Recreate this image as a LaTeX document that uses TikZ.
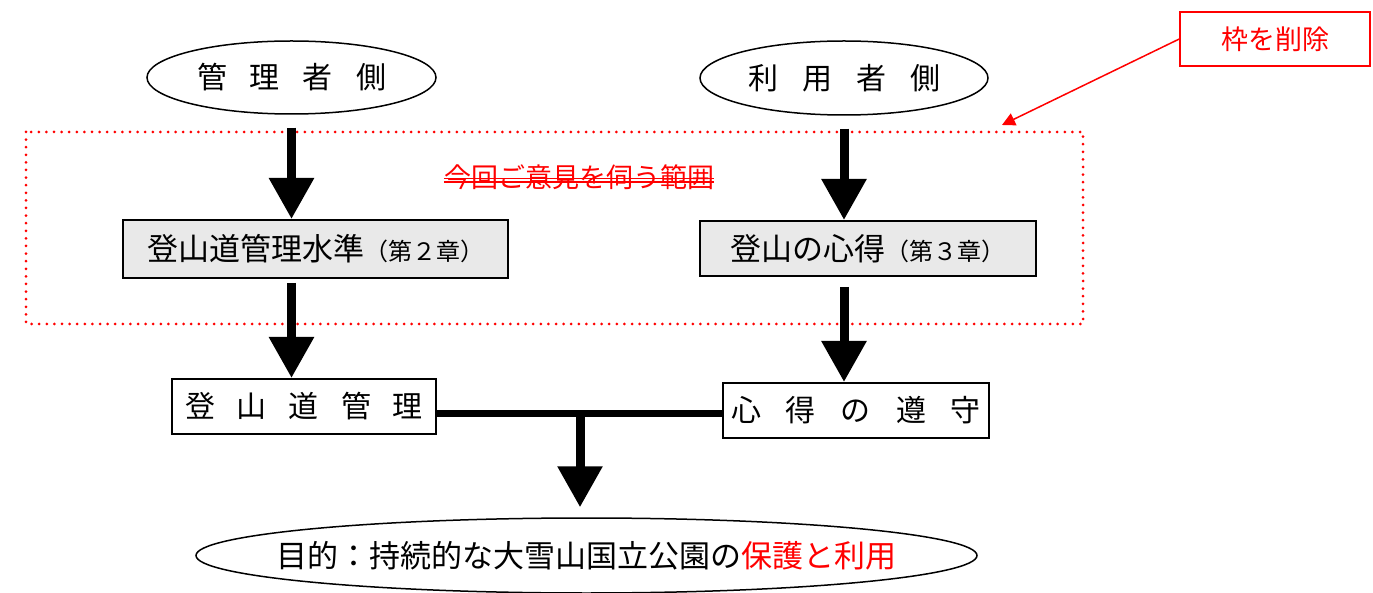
\documentclass[tikz,border=0pt]{standalone}
\usepackage{fontspec}
\setmainfont{Noto Sans CJK JP}
\usetikzlibrary{shapes.geometric,arrows.meta}
\definecolor{boxgray}{RGB}{233,233,233}
\definecolor{pured}{RGB}{255,0,0}
\begin{document}
\begin{tikzpicture}[x=1pt,y=-1pt,
  oval/.style={ellipse,draw,line width=1.5pt,inner sep=0pt,font=\fontsize{30}{36}\selectfont},
  graybox/.style={rectangle,draw,line width=2pt,fill=boxgray,inner sep=0pt},
  whitebox/.style={rectangle,draw,line width=2pt,fill=white,inner sep=0pt,font=\fontsize{30}{36}\selectfont},
  bigarrow/.style={line width=9pt,-{Triangle[width=43pt,length=41pt]}},
  dottedframe/.style={pured,line width=3pt,line cap=round,dash pattern=on 0pt off 7.6pt}
]
\useasboundingbox (0,0) rectangle (1373,593);

% dotted frame
\draw[dottedframe] (26,132) rectangle (1083,324);

% top ellipses
\node[oval,minimum width=289pt,minimum height=73pt] (e1) at (291.5,77.5)
  {管\kern23pt 理\kern23pt 者\kern23pt 側};
\node[oval,minimum width=288pt,minimum height=74pt] (e2) at (844,78)
  {利\kern24pt 用\kern24pt 者\kern24pt 側};

% grey boxes
\node[graybox,minimum width=385pt,minimum height=58pt] (b1) at (315.5,249)
  {\fontsize{31}{36}\selectfont 登山道管理水準\fontsize{24}{30}\selectfont （第２章）};
\node[graybox,minimum width=336pt,minimum height=55pt] (b2) at (868,248.5)
  {\fontsize{31}{36}\selectfont 登山の心得\fontsize{24}{30}\selectfont （第３章）};

% white boxes
\node[whitebox,minimum width=264pt,minimum height=55pt] (b3) at (304,406.5)
  {登\kern22pt 山\kern22pt 道\kern22pt 管\kern22pt 理};
\node[whitebox,minimum width=266pt,minimum height=55pt] (b4) at (856,410.5)
  {心\kern25pt 得\kern25pt の\kern25pt 遵\kern25pt 守};

% bottom ellipse
\node[oval,minimum width=781pt,minimum height=75pt] (e3) at (586.5,555.5) {};
\node[inner sep=0pt,font=\fontsize{31}{36}\selectfont] (e3t) at (e3.center)
  {目的：持続的な大雪山国立公園の\textcolor{pured}{保護と利用}};

% struck-out text
\node[text=pured,inner sep=0pt,font=\fontsize{27}{32}\selectfont] (strike) at (579,177)
  {今回ご意見を伺う範囲};
\draw[pured,line width=1.5pt] ([yshift=-1.5pt]strike.west) -- ([yshift=-1.5pt]strike.east);
\draw[pured,line width=1.5pt] ([yshift=-5pt]strike.west) -- ([yshift=-5pt]strike.east);

% callout
\node[rectangle,draw=pured,line width=1.5pt,fill=white,minimum width=190pt,minimum height=54pt,
  text=pured,font=\fontsize{27}{32}\selectfont] (call) at (1275,39) {枠を削除};
\coordinate (calltip) at (1002,125);
\draw[pured,line width=1.5pt,-{Triangle[width=13pt,length=13pt]}] (call.west) -- (calltip);

% arrows
\draw[bigarrow,shorten <=13pt] (e1.south) -- (e1.south |- b1.north);
\draw[bigarrow,shorten <=13pt] (e2.south) -- (e2.south |- b2.north);
\draw[bigarrow,shorten <=4pt] (e1.south |- b1.south) -- (e1.south |- b3.north);
\draw[bigarrow,shorten <=10pt] (e2.south |- b2.south) -- (e2.south |- b4.north);

% junction
\coordinate (j) at (580,413);
\draw[line width=7pt] (b3.east |- j) -- (b4.west |- j);
\draw[bigarrow,shorten >=10pt] (j) -- (j |- e3.north);
\end{tikzpicture}
\end{document}
